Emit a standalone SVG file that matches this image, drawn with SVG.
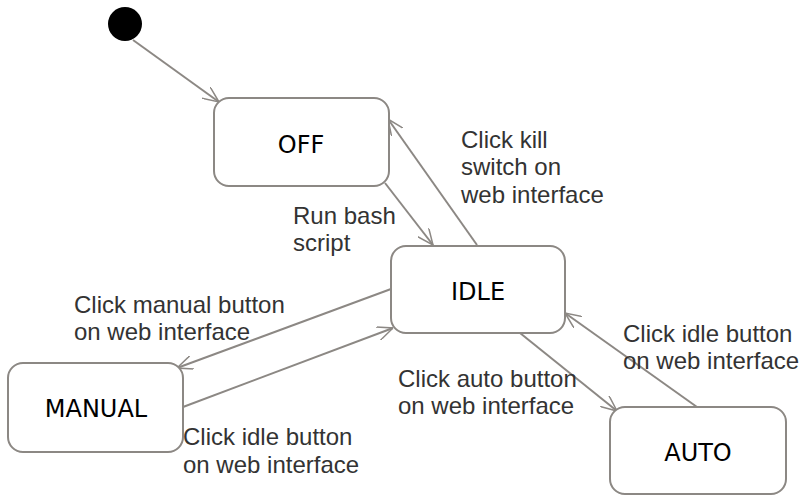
<svg xmlns="http://www.w3.org/2000/svg" width="803" height="496" viewBox="0 0 803 496">
<style>
.box{fill:#fff;stroke:#8c8884;stroke-width:2}
.edge{fill:none;stroke:#8c8884;stroke-width:2;marker-end:url(#arr)}
.nt{font-family:"DejaVu Sans",sans-serif;font-size:24px;fill:#000;text-anchor:middle}
.lt{font-family:"Liberation Sans",Arial,sans-serif;font-size:24px;fill:#333}
</style>
<defs>
<marker id="arr" markerUnits="userSpaceOnUse" viewBox="0 0 16 14" markerWidth="16" markerHeight="14" refX="16" refY="7" orient="auto">
<path d="M0,0 L16,7 L0,14" fill="none" stroke="#8c8884" stroke-width="1.5"/>
</marker>
</defs>
<rect width="803" height="496" fill="#fff"/>
<g id="connectors">
<line class="edge" x1="133" y1="40" x2="219" y2="102"/>
<line class="edge" x1="385" y1="183" x2="433" y2="245"/>
<line class="edge" x1="477" y1="245" x2="388" y2="119"/>
<line class="edge" x1="391" y1="289" x2="177" y2="368"/>
<line class="edge" x1="183" y1="407" x2="393" y2="328"/>
<line class="edge" x1="520" y1="333" x2="617" y2="411"/>
<line class="edge" x1="697" y1="407" x2="565" y2="313"/>
</g>
<g id="labels">
<text class="lt" x="293" y="224">Run bash</text>
<text class="lt" x="293" y="251">script</text>
<text class="lt" x="461" y="148">Click kill</text>
<text class="lt" x="461" y="175">switch on</text>
<text class="lt" x="461" y="203">web interface</text>
<text class="lt" x="74" y="313">Click manual button</text>
<text class="lt" x="74" y="340">on web interface</text>
<text class="lt" x="183" y="445">Click idle button</text>
<text class="lt" x="183" y="473">on web interface</text>
<text class="lt" x="398" y="387">Click auto button</text>
<text class="lt" x="398" y="414">on web interface</text>
<text class="lt" x="623" y="342">Click idle button</text>
<text class="lt" x="623" y="369">on web interface</text>
</g>
<g id="initial">
<circle cx="125" cy="24" r="17" fill="#000"/>
</g>
<g id="OFF">
<rect class="box" x="214" y="98" width="175" height="88" rx="15"/>
<text class="nt" x="301" y="153">OFF</text>
</g>
<g id="IDLE">
<rect class="box" x="391" y="246" width="174" height="87" rx="15"/>
<text class="nt" x="478" y="300">IDLE</text>
</g>
<g id="MANUAL">
<rect class="box" x="8" y="363" width="175" height="89" rx="15"/>
<text class="nt" x="96" y="417">MANUAL</text>
</g>
<g id="AUTO">
<rect class="box" x="610" y="407" width="176" height="87" rx="15"/>
<text class="nt" x="698" y="461">AUTO</text>
</g>
</svg>
